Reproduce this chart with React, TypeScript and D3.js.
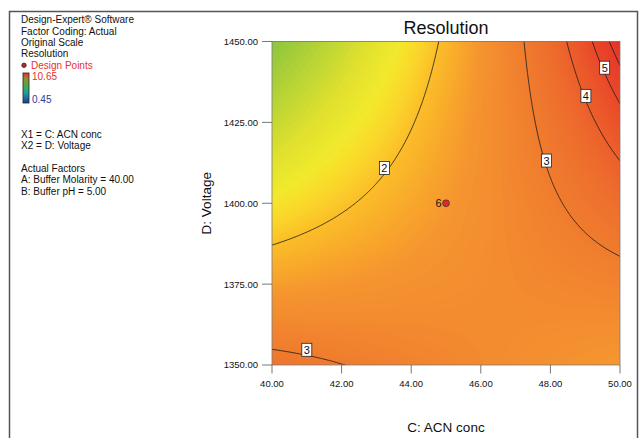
import { useMemo } from 'react';
import * as d3 from 'd3';

// Resolution contour plot (Design-Expert style), response shown in original scale
const acnTicks = [40, 42, 44, 46, 48, 50];
const voltageTicks = [1350, 1375, 1400, 1425, 1450];
const contourLevels = [2, 3, 4, 5, 6];

// fitted model of 1/(Resolution) in coded factors: C = (ACN - 45)/5, D = (Voltage - 1400)/50
const modelTerms = ['Intercept', 'C', 'D', 'CD'];
const inverseCoefficients = [0.427, -0.14, 0.0588, -0.2];

const labelLevels = [2, 3, 4, 5, 3];
const labelAcn = [43.23, 47.89, 49.02, 49.56, 41.0];
const labelVoltage = [1410.9, 1413.2, 1433.2, 1441.9, 1354.7];

const designPoint = [45, 1400];
const designPointCount = 6;

const legendLines = ['Design-Expert® Software', 'Factor Coding: Actual', 'Original Scale', 'Resolution'];
const factorLines = ['X1 = C: ACN conc', 'X2 = D: Voltage'];
const actualFactors = ['Actual Factors', 'A: Buffer Molarity = 40.00', 'B: Buffer pH = 5.00'];
const responseRange = [0.45, 10.65];

const colorStops = [1.2, 1.35, 1.55, 1.72, 1.85, 2.0, 2.2, 2.35, 2.7, 3.0, 4.0, 5.0, 7.0];
const colorValues = ['#8cc63f', '#b4d236', '#dfe12e', '#f2e92c', '#fbd62a', '#fbbc29', '#f8a62b', '#f5962f', '#f2862f', '#ef7b2e', '#ec5f2c', '#e9482a', '#e4302a'];

const font = 'Liberation Sans, Arial, sans-serif';
const W = 641;
const H = 438;
const left = 272;
const right = 620;
const top = 41.5;
const bottom = 365;

function resolution(acn: number, volt: number) {
  const c = (acn - 45) / 5;
  const d = (volt - 1400) / 50;
  const b = inverseCoefficients;
  const g = b[0] + b[1] * c + b[2] * d + b[3] * c * d;
  return 1 / g;
}

export default function App() {
  const x = d3.scaleLinear().domain([40, 50]).range([left, right]);
  const y = d3.scaleLinear().domain([1350, 1450]).range([bottom, top]);
  const color = d3.scaleLinear<string>().domain(colorStops).range(colorValues).clamp(true);

  const { bands, lines } = useMemo(() => {
    const n = 180;
    const m = 170;
    const xe = [39.8, 50.2];
    const ye = [1348, 1452];
    const values = new Array(n * m);
    for (let j = 0; j < m; j++) {
      const vv = ye[1] - ((j + 0.5) / m) * (ye[1] - ye[0]);
      for (let i = 0; i < n; i++) {
        const uu = xe[0] + ((i + 0.5) / n) * (xe[1] - xe[0]);
        values[j * n + i] = resolution(uu, vv);
      }
    }
    const proj = d3.geoTransform({
      point(px: number, py: number) {
        // @ts-ignore
        this.stream.point(x(xe[0] + (px / n) * (xe[1] - xe[0])), y(ye[1] - (py / m) * (ye[1] - ye[0])));
      },
    });
    const path = d3.geoPath(proj);
    const fillThresholds = d3.range(1.0, 8.0, 0.025);
    const bands = d3
      .contours()
      .size([n, m])
      .thresholds(fillThresholds)(values)
      .map((c) => ({ d: path(c as any) || '', v: c.value }));
    const lines = d3
      .contours()
      .size([n, m])
      .thresholds(contourLevels)(values)
      .map((c) => ({ d: path(c as any) || '', v: c.value }));
    return { bands, lines };
  }, []);

  return (
    <svg width={W} height={H} style={{ position: 'absolute', left: 0, top: 0, background: '#fff' }} fontFamily={font}>
      <defs>
        <clipPath id="plotClip">
          <rect x={left} y={top} width={right - left} height={bottom - top} />
        </clipPath>
        <linearGradient id="legendGrad" x1="0" y1="1" x2="0" y2="0">
          <stop offset="0%" stopColor="#1f3b9e" />
          <stop offset="33%" stopColor="#1aa0a0" />
          <stop offset="55%" stopColor="#3cb04a" />
          <stop offset="80%" stopColor="#9a8a30" />
          <stop offset="100%" stopColor="#e8302a" />
        </linearGradient>
      </defs>

      {/* outer frame */}
      <rect x={9.5} y={11.5} width={628} height={440} fill="none" stroke="#555" strokeWidth={1.5} />

      {/* legend block */}
      <g fontSize={10} fill="#111">
        {legendLines.map((t, i) => (
          <text key={t} x={21} y={23.3 + i * 11.35}>{t}</text>
        ))}
        <circle cx={24} cy={65.3} r={2.2} fill="#c0282a" stroke="#222" strokeWidth={0.8} />
        <text x={31} y={68.7} fill="#e8302a">Design Points</text>
        <rect x={23} y={73} width={6} height={30} fill="url(#legendGrad)" stroke="#222" strokeWidth={0.8} />
        <text x={32} y={80.3} fill="#e8302a">{responseRange[1].toFixed(2)}</text>
        <text x={32} y={102.7} fill="#2a3a9a">{responseRange[0].toFixed(2)}</text>
        {factorLines.map((t, i) => (
          <text key={t} x={21} y={138 + i * 11.3}>{t}</text>
        ))}
        {actualFactors.map((t, i) => (
          <text key={t} x={21} y={172 + i * 11.35}>{t}</text>
        ))}
      </g>

      {/* title */}
      <text x={(left + right) / 2} y={34} textAnchor="middle" fontSize={18} fill="#111">Resolution</text>

      {/* surface */}
      <g clipPath="url(#plotClip)">
        <rect x={left} y={top} width={right - left} height={bottom - top} fill={color(1.0)} />
        {bands.map((b, i) => (
          <path key={i} d={b.d} fill={color(b.v)} stroke="none" />
        ))}
        {lines.map((l, i) => (
          <path key={'l' + i} d={l.d} fill="none" stroke="#1a1a1a" strokeWidth={0.8} />
        ))}
      </g>
      <rect x={left} y={top} width={right - left} height={bottom - top} fill="none" stroke="#7a7a7a" strokeWidth={0.8} />

      {/* contour labels */}
      {labelLevels.map((lv, i) => {
        const cx = x(labelAcn[i]);
        const cy = y(labelVoltage[i]);
        return (
          <g key={'lab' + i}>
            <rect x={cx - 5} y={cy - 6.5} width={10} height={13} fill="#fff" stroke="#222" strokeWidth={0.8} />
            <text x={cx} y={cy + 4} textAnchor="middle" fontSize={11} fill="#111">{lv}</text>
          </g>
        );
      })}

      {/* design point */}
      <circle cx={x(designPoint[0])} cy={y(designPoint[1])} r={3.4} fill="#e2292a" stroke="#333" strokeWidth={0.7} />
      <text x={x(designPoint[0]) - 4.5} y={y(designPoint[1]) + 4} textAnchor="end" fontSize={11} fill="#111">{designPointCount}</text>

      {/* axes */}
      <g fontSize={9.5} fill="#111">
        {acnTicks.map((t) => (
          <g key={t}>
            <line x1={x(t)} x2={x(t)} y1={bottom} y2={bottom + 8.5} stroke="#555" strokeWidth={0.8} />
            <text x={x(t)} y={387} textAnchor="middle">{t.toFixed(2)}</text>
          </g>
        ))}
        {voltageTicks.map((t) => (
          <g key={t}>
            <line x1={left - 10} x2={left} y1={y(t)} y2={y(t)} stroke="#555" strokeWidth={0.8} />
            <text x={258} y={y(t) + 3.4} textAnchor="end">{t.toFixed(2)}</text>
          </g>
        ))}
      </g>
      <text x={(left + right) / 2} y={432} textAnchor="middle" fontSize={13.5} fill="#111">C: ACN conc</text>
      <text transform={`translate(211,${(top + bottom) / 2}) rotate(-90)`} textAnchor="middle" fontSize={13.5} fill="#111">D: Voltage</text>
    </svg>
  );
}
